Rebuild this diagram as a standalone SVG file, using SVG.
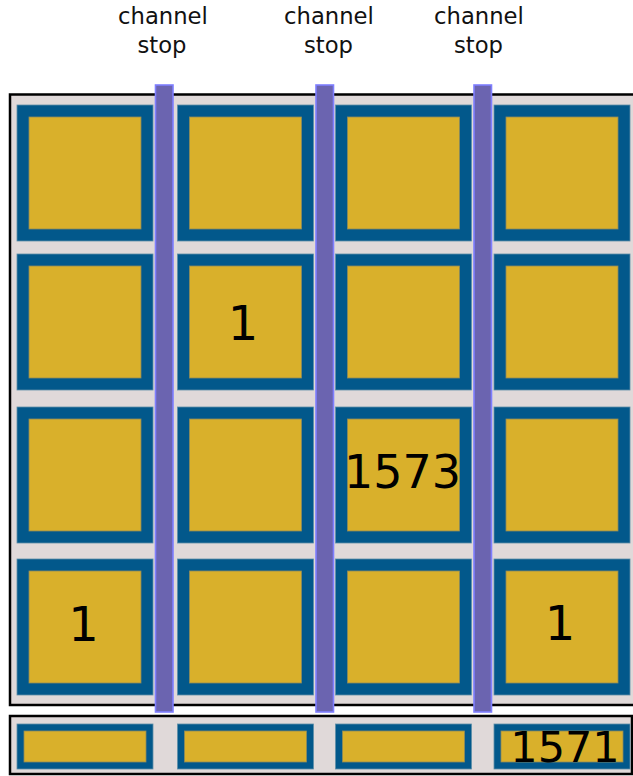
<svg xmlns="http://www.w3.org/2000/svg" width="633" height="776" viewBox="0 0 633 776">
  <style>
    .frame { fill: #e0d9d9; stroke: #000; stroke-width: 2.5; }
    .pix { fill: #02588b; stroke: #5f8fa8; stroke-width: 0.8; }
    .well { fill: #d9b02b; stroke: #8d8a5e; stroke-width: 0.8; }
    .stop { fill: #6b64b0; stroke: #7f7fff; stroke-width: 1.6; }
    .lbl { font-family: "DejaVu Sans", sans-serif; font-size: 22.7px; fill: #111; text-anchor: middle; }
    .num { font-family: "DejaVu Sans", sans-serif; fill: #000; text-anchor: middle; }
  </style>
  <rect width="633" height="776" fill="#fff"/>

  <g id="labels">
    <text class="lbl" x="163" y="24">channel</text>
    <text class="lbl" x="162" y="53">stop</text>
    <text class="lbl" x="329" y="24">channel</text>
    <text class="lbl" x="328.5" y="53">stop</text>
    <text class="lbl" x="479" y="24">channel</text>
    <text class="lbl" x="478.5" y="53">stop</text>
  </g>

  <g id="main-array">
    <rect class="frame" x="10" y="94.5" width="630" height="610.5"/>
    <g id="r1c1"><rect class="pix" x="17" y="105" width="136" height="136"/><rect class="well" x="29" y="117" width="112" height="112"/></g>
    <g id="r1c2"><rect class="pix" x="177.5" y="105" width="136" height="136"/><rect class="well" x="189.5" y="117" width="112" height="112"/></g>
    <g id="r1c3"><rect class="pix" x="335.5" y="105" width="136" height="136"/><rect class="well" x="347.5" y="117" width="112" height="112"/></g>
    <g id="r1c4"><rect class="pix" x="494" y="105" width="136" height="136"/><rect class="well" x="506" y="117" width="112" height="112"/></g>

    <g id="r2c1"><rect class="pix" x="17" y="254" width="136" height="136"/><rect class="well" x="29" y="266" width="112" height="112"/></g>
    <g id="r2c2"><rect class="pix" x="177.5" y="254" width="136" height="136"/><rect class="well" x="189.5" y="266" width="112" height="112"/><text class="num" x="243" y="340" font-size="48">1</text></g>
    <g id="r2c3"><rect class="pix" x="335.5" y="254" width="136" height="136"/><rect class="well" x="347.5" y="266" width="112" height="112"/></g>
    <g id="r2c4"><rect class="pix" x="494" y="254" width="136" height="136"/><rect class="well" x="506" y="266" width="112" height="112"/></g>

    <g id="r3c1"><rect class="pix" x="17" y="407" width="136" height="136"/><rect class="well" x="29" y="419" width="112" height="112"/></g>
    <g id="r3c2"><rect class="pix" x="177.5" y="407" width="136" height="136"/><rect class="well" x="189.5" y="419" width="112" height="112"/></g>
    <g id="r3c3"><rect class="pix" x="335.5" y="407" width="136" height="136"/><rect class="well" x="347.5" y="419" width="112" height="112"/><text class="num" x="402.5" y="488" font-size="46">1573</text></g>
    <g id="r3c4"><rect class="pix" x="494" y="407" width="136" height="136"/><rect class="well" x="506" y="419" width="112" height="112"/></g>

    <g id="r4c1"><rect class="pix" x="17" y="559" width="136" height="136"/><rect class="well" x="29" y="571" width="112" height="112"/><text class="num" x="83.5" y="640.5" font-size="48">1</text></g>
    <g id="r4c2"><rect class="pix" x="177.5" y="559" width="136" height="136"/><rect class="well" x="189.5" y="571" width="112" height="112"/></g>
    <g id="r4c3"><rect class="pix" x="335.5" y="559" width="136" height="136"/><rect class="well" x="347.5" y="571" width="112" height="112"/></g>
    <g id="r4c4"><rect class="pix" x="494" y="559" width="136" height="136"/><rect class="well" x="506" y="571" width="112" height="112"/><text class="num" x="560" y="640" font-size="48">1</text></g>
  </g>

  <g id="channel-stops">
    <rect class="stop" x="155.5" y="85" width="17.5" height="627"/>
    <rect class="stop" x="316" y="85" width="17.5" height="627"/>
    <rect class="stop" x="474" y="85" width="17.5" height="627"/>
  </g>

  <g id="serial-register">
    <rect class="frame" x="10" y="716" width="622" height="58"/>
    <g id="s1"><rect class="pix" x="17" y="724" width="136" height="45"/><rect class="well" x="24" y="731" width="122" height="31"/></g>
    <g id="s2"><rect class="pix" x="177.5" y="724" width="136" height="45"/><rect class="well" x="184.5" y="731" width="122" height="31"/></g>
    <g id="s3"><rect class="pix" x="335.5" y="724" width="136" height="45"/><rect class="well" x="342.5" y="731" width="122" height="31"/></g>
    <g id="s4"><rect class="pix" x="494" y="724" width="136" height="45"/><rect class="well" x="501" y="731" width="122" height="31"/><text class="num" x="565" y="761.5" font-size="43">1571</text></g>
  </g>
</svg>
